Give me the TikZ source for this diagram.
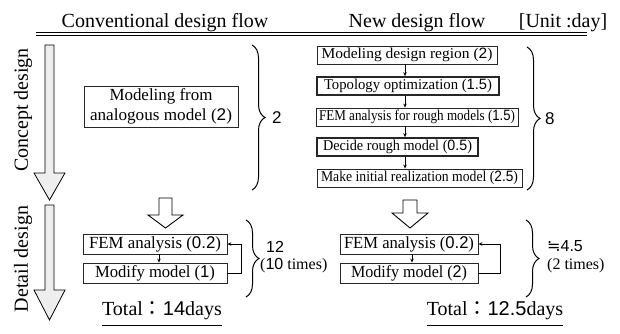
\documentclass[tikz,border=0pt]{standalone}
\usepackage{fontspec}
\setmainfont{Liberation Serif}
\newfontfamily\numf{Liberation Sans}
\newfontfamily\cjk{Noto Sans CJK JP}
\newfontfamily\djv{DejaVu Sans}
\usetikzlibrary{arrows.meta,decorations.pathreplacing}
\newsavebox\fitbox
\newcommand\fitto[2]{\sbox\fitbox{#2}\pgfmathsetmacro\fitfac{#1/\the\wd\fitbox}\scalebox{\fitfac}[1]{\usebox\fitbox}}
\newcommand\dg[1]{{\numf #1}}
\begin{document}
\begin{tikzpicture}[x=1pt,y=-1pt,
  box/.style={draw=black!85,line width=0.8pt,inner sep=0pt,minimum height=18pt,font=\fontsize{15}{17}\selectfont},
  thickbox/.style={box,line width=1.7pt},
  dbox/.style={box,minimum height=20pt,minimum width=144pt,font=\fontsize{17}{19}\selectfont},
  arr/.style={line width=0.8pt,-{Stealth[length=4pt,width=3.5pt]}},
  hollow/.style={draw=black,line width=0.9pt,fill=white,line join=miter},
  greyarrow/.style={draw=black,line width=0.8pt,fill=gray!13},
  bigtxt/.style={inner sep=0pt,font=\fontsize{20}{22}\selectfont},
  lbl/.style={inner sep=0pt,anchor=west,font=\fontsize{16}{18}\selectfont},
  brace/.style={decorate,decoration={brace,amplitude=13pt},line width=1pt}
]
\useasboundingbox (0,0) rectangle (620,334);

% headers
\node[bigtxt,anchor=base] (h1) at (165,28) {Conventional design flow};
\node[bigtxt,anchor=base] (h2) at (417,28) {New design flow};
\node[bigtxt,anchor=base] (h3) at (563,28) {[Unit :day]};
\draw[line width=0.8pt] (36,32) -- (587,32);
\draw[line width=0.8pt] (36,35.5) -- (587,35.5);

% phase labels and big arrows
\node[bigtxt,rotate=90] (cd) at (23,110) {Concept design};
\node[bigtxt,rotate=90] (dd) at (23,259) {Detail design};
\draw[greyarrow] (45,45) -- (54,45) -- (54,173) -- (65,173) -- (49.5,200) -- (34,173) -- (45,173) -- cycle;
\draw[greyarrow] (45,205) -- (54,205) -- (54,290) -- (65,290) -- (49.5,320) -- (34,290) -- (45,290) -- cycle;

% conventional concept
\node[box,minimum width=154pt,minimum height=41pt,align=center,font=\fontsize{17}{20}\selectfont] (mam) at (161,106.5)
  {\fitto{103}{Modeling from}\\\fitto{142}{analogous model (\dg{2})}};
\coordinate (b1t) at (252,45);
\coordinate (b1b) at (252,190);
\draw[brace] (b1t) -- (b1b);
\node[lbl,font=\numf\fontsize{17}{19}\selectfont] (l2) at (272,118) {2};

% new concept
\node[box,minimum width=180pt] (mdr) at (407,55) {\fitto{171}{Modeling design region (\dg{2})}};
\node[thickbox,minimum width=182pt] (topo) at (408,86) {\fitto{168}{Topology optimization (\dg{1.5})}};
\node[box,minimum width=202pt] (fer) at (417,117) {\fitto{196}{FEM analysis for rough models (\dg{1.5})}};
\node[thickbox,minimum width=161pt] (drm) at (397.5,147) {\fitto{149}{Decide rough model (\dg{0.5})}};
\node[box,minimum width=205pt] (mir) at (419.5,178) {\fitto{197}{Make initial realization model (\dg{2.5})}};
\coordinate (ax) at (405,0);
\draw[arr] (mdr.south -| ax) -- (topo.north -| ax);
\draw[arr] (topo.south -| ax) -- (fer.north -| ax);
\draw[arr] (fer.south -| ax) -- (drm.north -| ax);
\draw[arr] (drm.south -| ax) -- (mir.north -| ax);
\coordinate (b2t) at (527,47);
\coordinate (b2b) at (527,190);
\draw[brace] (b2t) -- (b2b);
\node[lbl,font=\numf\fontsize{17}{19}\selectfont] (l8) at (545,119) {8};

% hollow transition arrows
\draw[hollow] (159,198) -- (172,198) -- (172,215) -- (183,215) -- (165.5,228) -- (148,215) -- (159,215) -- cycle;
\draw[hollow] (403,200) -- (417,200) -- (417,213) -- (428,213) -- (410,228) -- (392,213) -- (403,213) -- cycle;

% conventional detail
\node[dbox] (femL) at (155,244) {\fitto{132}{FEM analysis (\dg{0.2})}};
\node[dbox] (modL) at (155,273) {\fitto{120}{Modify model (\dg{1})}};
\coordinate (cL) at (159,0);
\draw[arr] (femL.south -| cL) -- (modL.north -| cL);
\draw[arr] (modL.east) -- ++(14,0) |- (femL.east);
\coordinate (b3t) at (246,220);
\coordinate (b3b) at (246,297);
\draw[brace] (b3t) -- (b3b);
\node[lbl,font=\numf\fontsize{16}{18}\selectfont] (l12) at (266,246.5) {12};
\node[lbl] (l10) at (260,265.5) {(\dg{10} times)};

% new detail
\node[dbox,minimum width=138pt] (femR) at (409,244) {\fitto{130}{FEM analysis (\dg{0.2})}};
\node[dbox,minimum width=138pt] (modR) at (409,273) {\fitto{116}{Modify model (\dg{2})}};
\coordinate (cR) at (412,0);
\draw[arr] (femR.south -| cR) -- (modR.north -| cR);
\draw[arr] (modR.east) -- ++(22,0) |- (femR.east);
\coordinate (b4t) at (526,220);
\coordinate (b4b) at (526,297);
\draw[brace] (b4t) -- (b4b);
\node[lbl] (l45) at (547,246.5) {{\djv ≒}\dg{4.5}};
\node[lbl] (l2t) at (547,265.5) {(2 times)};

% totals
\node[bigtxt,anchor=base] (tot1) at (162,315) {Total{\cjk ：}\dg{14}days};
\node[bigtxt,anchor=base] (tot2) at (495,315) {Total{\cjk ：}\dg{12.5}days};
\draw[line width=0.8pt] ([yshift=-10pt]tot1.base west) -- ([yshift=-10pt]tot1.base east);
\draw[line width=0.8pt] ([yshift=-10pt]tot2.base west) -- ([yshift=-10pt]tot2.base east);
\end{tikzpicture}
\end{document}
